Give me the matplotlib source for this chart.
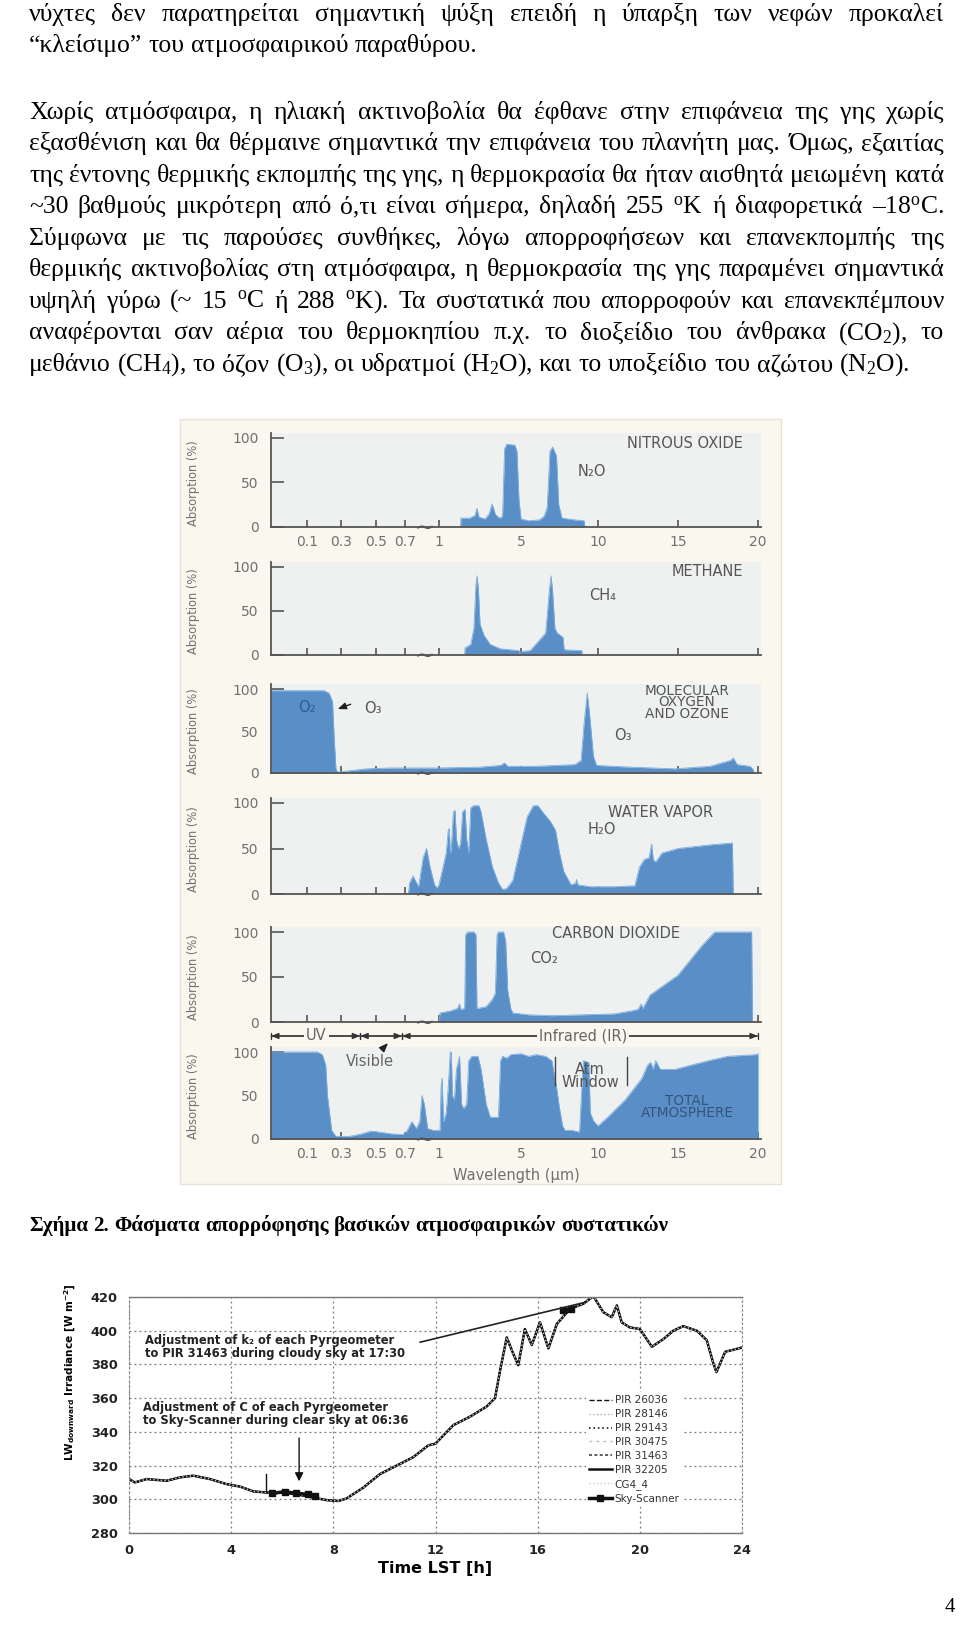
import numpy as np
import matplotlib
matplotlib.use('Agg')
import matplotlib.pyplot as plt
from matplotlib.patches import Rectangle

W, H = 960, 1629
plt.rcParams['mathtext.fontset'] = 'custom'
plt.rcParams['mathtext.rm'] = 'Liberation Serif'
plt.rcParams['mathtext.it'] = 'Liberation Serif:italic'
plt.rcParams['mathtext.bf'] = 'Liberation Serif:bold'
plt.rcParams['mathtext.sf'] = 'DejaVu Sans:bold'

# ---------------------------------------------------------------- data
body_lines = [
    "νύχτες δεν παρατηρείται σημαντική ψύξη επειδή η ύπαρξη των νεφών προκαλεί",
    "“κλείσιμο” του ατμοσφαιρικού παραθύρου.",
    "Χωρίς ατμόσφαιρα, η ηλιακή ακτινοβολία θα έφθανε στην επιφάνεια της γης χωρίς",
    "εξασθένιση και θα θέρμαινε σημαντικά την επιφάνεια του πλανήτη μας. Όμως, εξαιτίας",
    "της έντονης θερμικής εκπομπής της γης, η θερμοκρασία θα ήταν αισθητά μειωμένη κατά",
    "~30 βαθμούς μικρότερη από ό,τι είναι σήμερα, δηλαδή 255 $^{\\mathrm{o}}$K ή διαφορετικά –18$^{\\mathrm{o}}$C.",
    "Σύμφωνα με τις παρούσες συνθήκες, λόγω απορροφήσεων και επανεκπομπής της",
    "θερμικής ακτινοβολίας στη ατμόσφαιρα, η θερμοκρασία της γης παραμένει σημαντικά",
    "υψηλή γύρω (~ 15 $^{\\mathrm{o}}$C ή 288 $^{\\mathrm{o}}$K). Τα συστατικά που απορροφούν και επανεκπέμπουν",
    "αναφέρονται σαν αέρια του θερμοκηπίου π.χ. το διοξείδιο του άνθρακα (CO$_2$), το",
    "μεθάνιο (CH$_4$), το όζον (O$_3$), οι υδρατμοί (H$_2$O), και το υποξείδιο του αζώτου (N$_2$O).",
]
body_justify = [True, False, True, True, True, True, True, True, True, True, False]
caption = "Σχήμα 2. Φάσματα απορρόφησης βασικών ατμοσφαιρικών συστατικών"

# wavelength axis (piecewise scale of the original figure)
wl_anchor = [0.0, 0.1, 0.3, 0.5, 0.7, 1.0, 5.0, 10.0, 15.0, 20.0, 20.2]
pos_anchor = [0, 36, 70, 105, 134, 168, 250, 327, 407, 487, 490]
wl_ticks = [0.1, 0.3, 0.5, 0.7, 1, 5, 10, 15, 20]
wl_ticklabels = ['0.1', '0.3', '0.5', '0.7', '1', '5', '10', '15', '20']

n2o_wl = [2.05, 2.07, 2.5, 2.75, 2.85, 2.95, 3.25, 3.45, 3.59, 3.75, 3.95, 4.1, 4.2, 4.3, 4.7, 4.8,
          4.9, 5.0, 5.5, 6.2, 6.5, 6.7, 6.88, 7.05, 7.3, 7.45, 7.66, 8.5, 9.1, 9.15]
n2o_abs = [0, 10, 10, 13, 21, 11, 9, 15, 26, 14, 10, 12, 88, 93, 92, 85,
           30, 9, 7, 8, 12, 22, 85, 90, 80, 25, 10, 8, 7, 0]

ch4_wl = [2.25, 2.27, 2.55, 2.7, 2.8, 2.85, 2.92, 3.0, 3.2, 3.5, 4.0, 4.9, 4.95, 5.05, 5.6, 6.1,
          6.6, 6.85, 6.95, 7.05, 7.2, 7.35, 7.73, 7.8, 8.95, 8.97]
ch4_abs = [0, 8, 12, 30, 80, 90, 75, 35, 22, 12, 7, 5, 1, 4, 5, 15,
           25, 75, 90, 72, 30, 25, 20, 6, 5, 0]

o3_wl = [0.0, 0.2, 0.23, 0.25, 0.26, 0.27, 0.28, 0.32, 0.45, 0.6, 1.0, 3.0, 4.0, 4.2, 4.35, 6.0,
         8.5, 8.9, 9.1, 9.3, 9.45, 9.7, 9.9, 12.0, 14.8, 17.0, 18.3, 18.45, 18.7, 19.5, 19.7, 19.75]
o3_abs = [98, 98, 95, 85, 40, 5, 1, 2, 5, 6, 6, 7, 9, 12, 8, 8,
          10, 15, 60, 95, 70, 20, 9, 7, 5, 8, 15, 18, 10, 8, 4, 0]

h2o_wl = [0.73, 0.74, 0.77, 0.79, 0.82, 0.86, 0.89, 0.92, 0.96, 0.99, 1.05, 1.2, 1.35, 1.45, 1.5,
          1.55, 1.6, 1.7, 1.78, 1.85, 1.95, 2.05, 2.15, 2.27, 2.35, 2.45, 2.55, 2.7, 2.95, 3.05,
          3.3, 3.6, 3.9, 4.1, 4.3, 4.6, 4.95, 5.4, 5.8, 6.1, 6.5, 6.9, 7.24, 7.5, 7.77, 8.25,
          8.55, 8.6, 8.7, 9.5, 11.0, 12.3, 12.6, 12.9, 13.2, 13.35, 13.45, 13.6, 14.0, 15.0,
          17.0, 18.4, 18.45]
h2o_abs = [0, 12, 20, 15, 8, 40, 50, 30, 10, 6, 15, 30, 45, 70, 72,
           45, 50, 90, 92, 60, 50, 55, 90, 93, 60, 45, 95, 97, 97, 90,
           60, 30, 12, 5, 6, 15, 50, 85, 97, 97, 88, 80, 70, 45, 25, 10,
           12, 16, 10, 8, 8, 9, 30, 38, 40, 55, 38, 35, 45, 50,
           54, 56, 0]

co2_wl = [1.0, 1.05, 1.5, 1.9, 2.0, 2.05, 2.25, 2.3, 2.4, 2.7, 2.8, 2.85, 3.3, 3.6, 3.75, 3.83,
          3.9, 4.15, 4.25, 4.35, 4.5, 4.6, 5.5, 7.0, 9.0, 11.0, 12.0, 12.5, 12.7, 12.8, 13.1,
          13.25, 15.0, 16.5, 17.3, 19.6, 19.65]
co2_abs = [0, 10, 12, 15, 20, 14, 15, 97, 100, 100, 97, 15, 17, 25, 32, 97,
           100, 100, 90, 35, 15, 10, 8, 7, 8, 9, 12, 14, 20, 15, 25,
           30, 52, 85, 100, 100, 0]

tot_wl = [0.0, 0.16, 0.19, 0.21, 0.22, 0.245, 0.27, 0.35, 0.42, 0.47, 0.52, 0.6, 0.69, 0.72,
          0.76, 0.8, 0.83, 0.85, 0.87, 0.9, 0.95, 1.05, 1.1, 1.15, 1.22, 1.35, 1.45, 1.55, 1.6,
          1.65, 1.75, 1.85, 2.0, 2.1, 2.2, 2.35, 2.45, 2.6, 2.9, 3.05, 3.3, 3.5, 3.9, 4.0, 4.1,
          4.3, 4.5, 5.0, 5.5, 6.0, 6.6, 7.0, 7.3, 7.5, 7.7, 7.85, 8.3, 8.8, 8.95, 9.05, 9.4,
          9.5, 9.7, 10.0, 10.6, 11.7, 12.75, 13.1, 13.3, 13.45, 13.6, 13.9, 14.8, 16.9, 18.1,
          19.0, 19.9, 20.0]
tot_abs = [100, 100, 97, 85, 50, 10, 3, 3, 6, 9, 8, 6, 5, 10,
           20, 12, 20, 50, 40, 12, 10, 10, 60, 70, 20, 30, 60, 100, 100,
           50, 45, 80, 95, 40, 35, 40, 90, 95, 95, 80, 40, 25, 25, 90, 95,
           93, 97, 98, 95, 97, 95, 90, 60, 35, 15, 10, 10, 8, 60, 90, 88,
           30, 21, 15, 25, 45, 70, 85, 88, 80, 90, 80, 80, 90, 95,
           96, 97, 98]

# downward longwave irradiance
lw_hours = [0, 0.23, 0.69, 1.47, 2.0, 2.52, 3.17, 3.82, 4.35, 4.87, 5.39, 5.91, 6.56, 7.22,
            7.74, 8.2, 8.52, 9.18, 9.83, 10.48, 11.13, 11.72, 12.0, 12.7, 13.35, 14.0, 14.33,
            14.53, 14.79, 15.0, 15.24, 15.5, 15.77, 16.09, 16.42, 16.75, 17.27, 17.79, 18.18,
            18.57, 18.9, 19.1, 19.29, 19.6, 20.0, 20.47, 20.92, 21.31, 21.7, 22.23, 22.62,
            22.88, 23.0, 23.34, 24.0]
lw_values = [312, 310, 312, 311, 313, 314, 312, 309, 307.5, 304.7, 304, 304, 303, 301,
             299.5, 299, 300.5, 307, 315, 320, 325, 332, 333, 344, 349, 355, 360,
             376.5, 396, 388, 379.5, 401, 391.5, 405, 389.5, 404, 413, 416, 420.5,
             411, 408, 415, 405, 402, 401, 390.5, 395, 400, 402.7, 400, 394.4,
             380.5, 375.5, 387.5, 390]
sky_hours = [5.6, 6.1, 6.55, 7.0, 7.3, np.nan, 17.0, 17.3]
sky_values = [303.5, 304.5, 303.5, 303.0, 302.0, np.nan, 412, 413]
pir_names = ['PIR 26036', 'PIR 28146', 'PIR 29143', 'PIR 30475', 'PIR 31463', 'PIR 32205', 'CG4_4']
lw_yticks = [280, 300, 320, 340, 360, 380, 400, 420]
lw_xticks = [0, 4, 8, 12, 16, 20, 24]

# ---------------------------------------------------------------- helpers
fig = plt.figure(figsize=(W / 100, H / 100), dpi=100)
fig.patch.set_facecolor('white')
renderer = fig.canvas.get_renderer()


def rect(x0, y0, x1, y1):
    return [x0 / W, 1 - y1 / H, (x1 - x0) / W, (y1 - y0) / H]


def ftext(x, y, s, **kw):
    return fig.text(x / W, 1 - y / H, s, **kw)


SERIF = ['Liberation Serif', 'DejaVu Serif']


def measure(s, fs, weight='normal'):
    t = fig.text(0, 0, s, fontsize=fs, family=SERIF, fontweight=weight)
    w = t.get_window_extent(renderer).width
    t.remove()
    return w


def natural_width(s, fs, weight='normal'):
    words = s.split(' ')
    sp = measure('a b', fs, weight) - measure('ab', fs, weight)
    return sum(measure(w, fs, weight) for w in words) + sp * (len(words) - 1)


def draw_line(s, yc, justify, fs, weight='normal', x0=29, x1=944):
    words = s.split(' ')
    ws = [measure(w, fs, weight) for w in words]
    sp = measure('a b', fs, weight) - measure('ab', fs, weight)
    if justify and len(words) > 1:
        gap = (x1 - x0 - sum(ws)) / (len(words) - 1)
    else:
        gap = sp
    base = yc + 0.225 * fs * 100 / 72
    x = x0
    for w, wd in zip(words, ws):
        ftext(x, base, w, fontsize=fs, family=SERIF, fontweight=weight,
              ha='left', va='baseline', color='black')
        x += wd + gap


# ---------------------------------------------------------------- body text
fs_body = 16 * 880 / natural_width(body_lines[-1], 16)
line_centers = [15, 46] + [113 + 31.5 * i for i in range(9)]
for s, yc, j in zip(body_lines, line_centers, body_justify):
    draw_line(s, yc, j, fs_body)

# caption
fs_cap = 14 * 641 / natural_width(caption, 14, 'bold')
draw_line(caption, 1226, False, fs_cap, weight='bold')
ftext(950, 1612, '4', fontsize=fs_cap, family=SERIF, ha='center', va='baseline')

# ---------------------------------------------------------------- spectra figure
BEIGE = '#f9f7ee'
PANEL = '#eff1f1'
BLUE = '#5a8ec7'
AXC = '#555555'
LBL = '#707070'
fig.patches.append(Rectangle((180 / W, 1 - 1184 / H), 601 / W, 765 / H, transform=fig.transFigure,
                             facecolor=BEIGE, edgecolor='#e6e3d8', lw=1, zorder=-5))


def fwd(w):
    return np.interp(w, wl_anchor, pos_anchor)


def inv(p):
    return np.interp(p, pos_anchor, wl_anchor)


panels_px = [(438, 527), (567, 655), (689, 773), (803, 894), (932, 1022), (1052, 1139)]
spectra = [(n2o_wl, n2o_abs), (ch4_wl, ch4_abs), (o3_wl, o3_abs),
           (h2o_wl, h2o_abs), (co2_wl, co2_abs), (tot_wl, tot_abs)]
axes_sp = []
for i, ((y100, y0), (wl, ab)) in enumerate(zip(panels_px, spectra)):
    top = y100 - 0.06 * (y0 - y100)
    ax = fig.add_axes(rect(271, top, 761, y0))
    ax.set_zorder(1)
    ax.set_xscale('function', functions=(fwd, inv))
    ax.set_xlim(0.0, 20.2)
    ax.set_ylim(0, 106)
    ax.set_facecolor(PANEL)
    ax.fill_between(wl, ab, 0, color=BLUE, lw=0, zorder=2)
    ax.plot(wl, ab, color='#79aee0', lw=0.6, zorder=2)
    for sp in ('top', 'right'):
        ax.spines[sp].set_visible(False)
    for sp in ('left', 'bottom'):
        ax.spines[sp].set_color(AXC)
        ax.spines[sp].set_linewidth(1.3)
        ax.spines[sp].set_zorder(3)
    ax.set_yticks([0, 50, 100])
    ax.set_yticklabels(['0', '50', '100'])
    ax.set_xticks(wl_ticks)
    ax.minorticks_off()
    ax.tick_params(axis='y', direction='in', length=9, width=1.2, color=AXC,
                   labelcolor=LBL, labelsize=10, pad=9)
    ax.tick_params(axis='x', direction='in', length=5, width=1.2, color=AXC,
                   labelcolor=LBL, labelsize=10, pad=6)
    if i in (0, 5):
        ax.set_xticklabels(wl_ticklabels)
    else:
        ax.set_xticklabels([])
    ax.set_ylabel('Absorption (%)', fontsize=8.3, color=LBL)
    ax.yaxis.set_label_coords(-0.145, 0.47)
    # axis break mark between 0.7 and 1
    ax.text(0.868, -1.5, '∼', fontsize=17, color=AXC, ha='center', va='center', zorder=4,
            clip_on=False)
    axes_sp.append(ax)

TITLE = dict(fontsize=10.5, color='#555555', family='DejaVu Sans', va='center', zorder=10)
SMALLT = dict(TITLE, fontsize=9.8)
ftext(743, 443, 'NITROUS OXIDE', ha='right', **TITLE)
ftext(592, 472, 'N₂O', ha='center', **TITLE)
ftext(743, 572, 'METHANE', ha='right', **TITLE)
ftext(603, 595, 'CH₄', ha='center', **TITLE)
ftext(687, 691, 'MOLECULAR', ha='center', **SMALLT)
ftext(687, 702, 'OXYGEN', ha='center', **SMALLT)
ftext(687, 714, 'AND OZONE', ha='center', **SMALLT)
ftext(623, 735, 'O₃', ha='center', **TITLE)
ftext(307, 708, 'O₂', ha='center', fontsize=10.5, color='#2a5c94', va='center', zorder=10)
ftext(661, 812, 'WATER VAPOR', ha='center', **TITLE)
ftext(602, 830, 'H₂O', ha='center', **TITLE)
ftext(616, 933, 'CARBON DIOXIDE', ha='center', **TITLE)
ftext(544, 958, 'CO₂', ha='center', **TITLE)
ftext(687, 1101, 'TOTAL', ha='center', fontsize=9.8, color='#34557a', va='center', zorder=10)
ftext(687, 1113, 'ATMOSPHERE', ha='center', fontsize=9.8, color='#34557a', va='center', zorder=10)

ax3 = axes_sp[2]
ax3.text(0.483, 77, 'O₃', fontsize=10.5, color='#555555', ha='center', va='center')
ax3.annotate('', xy=(0.265, 75), xytext=(0.37, 83),
             arrowprops=dict(arrowstyle='-|>,head_length=0.5,head_width=0.2', color='#222', lw=1))

ax6 = axes_sp[5]
ax6.set_xlabel('Wavelength (μm)', fontsize=10.5, color=LBL, labelpad=5)
ya = 1.117
for (a, b) in [(0.0, 0.41), (0.41, 0.68), (0.68, 20.0)]:
    ax6.annotate('', xy=(a, ya), xytext=(b, ya), xycoords=('data', 'axes fraction'),
                 textcoords=('data', 'axes fraction'),
                 arrowprops=dict(arrowstyle='<|-|>,head_length=0.45,head_width=0.18',
                                 color='#333', lw=0.9, shrinkA=0, shrinkB=0))
    ax6.annotate('', xy=(a, ya), xytext=(b, ya), xycoords=('data', 'axes fraction'),
                 textcoords=('data', 'axes fraction'),
                 arrowprops=dict(arrowstyle='|-|,widthA=0.25,widthB=0.25',
                                 color='#333', lw=0.9, shrinkA=0, shrinkB=0))
bb = dict(boxstyle='square,pad=0.15', fc=BEIGE, ec='none')
ax6.text(0.153, ya, 'UV', fontsize=10.5, color='#666', ha='center', va='center',
         transform=ax6.get_xaxis_transform(), bbox=bb, zorder=5)
ax6.text(9.03, ya, 'Infrared (IR)', fontsize=10.5, color='#666', ha='center', va='center',
         transform=ax6.get_xaxis_transform(), bbox=bb, zorder=5)
ax6.annotate('Visible', xy=(0.583, 1.04), xytext=(0.466, 0.835),
             xycoords=('data', 'axes fraction'), textcoords=('data', 'axes fraction'),
             fontsize=10.5, color='#666', ha='center', va='center',
             arrowprops=dict(arrowstyle='-|>,head_length=0.5,head_width=0.2', color='#222', lw=1,
                             shrinkA=6, shrinkB=0))
ax6.axvline(7.21, ymin=0.586, ymax=0.889, color='#444', lw=1, zorder=4)
ax6.axvline(11.81, ymin=0.586, ymax=0.889, color='#444', lw=1, zorder=4)
ax6.text(9.48, 0.75, 'Atm', fontsize=10.5, color='#555', ha='center', va='center',
         transform=ax6.get_xaxis_transform(), zorder=5)
ax6.text(9.48, 0.615, 'Window', fontsize=10.5, color='#555', ha='center', va='center',
         transform=ax6.get_xaxis_transform(), zorder=5)

# ---------------------------------------------------------------- LW irradiance chart
axl = fig.add_axes(rect(129, 1297, 742, 1533))
axl.set_xlim(0, 24)
axl.set_ylim(280, 420)
axl.set_xticks(lw_xticks)
axl.set_yticks(lw_yticks)
axl.grid(True, ls=(0, (1.5, 2.5)), color='#777777', lw=0.9)
axl.set_axisbelow(True)
for sp in ('top', 'bottom'):
    axl.spines[sp].set_color('#777777')
    axl.spines[sp].set_linewidth(1.0)
for sp in ('left', 'right'):
    axl.spines[sp].set_linestyle((0, (1.5, 2.5)))
    axl.spines[sp].set_color('#888888')
axl.tick_params(length=0, labelsize=9.3, pad=8, labelcolor='#222222')
for lab in axl.get_xticklabels() + axl.get_yticklabels():
    lab.set_fontweight('bold')

styles = [dict(ls='--', color='#111', lw=1.0),
          dict(ls=':', color='#aaaaaa', lw=1.0),
          dict(ls=':', color='#222', lw=1.2),
          dict(ls=(0, (2, 3)), color='#bbbbbb', lw=1.0),
          dict(ls=(0, (2, 1.5)), color='#333', lw=1.1),
          dict(ls='-', color='#111', lw=1.8),
          dict(ls=':', color='#cccccc', lw=1.0)]
handles = []
for name, st in zip(pir_names, styles):
    h, = axl.plot(lw_hours, lw_values, label=name, **st)
    handles.append(h)
hs, = axl.plot(sky_hours, sky_values, color='#111', lw=2.5, marker='s', ms=4.5,
               label='Sky-Scanner')
handles.append(hs)

leg = axl.legend(handles=handles, loc='upper left', bbox_to_anchor=(0.745, 0.597),
                 frameon=True, fancybox=False, framealpha=1, edgecolor='none',
                 facecolor='white', fontsize=7.5, handlelength=2.2, handletextpad=0.3,
                 labelspacing=0.38, borderpad=0.3, borderaxespad=0)
for t in leg.get_texts():
    t.set_color('#333')

axl.plot([11.4, 17.9], [393.2, 417.0], color='#222', lw=1.2)
axl.annotate('', xy=(6.66, 309), xytext=(6.66, 338),
             arrowprops=dict(arrowstyle='-|>,head_length=0.5,head_width=0.25', color='#111', lw=1))
axl.plot([5.36, 5.36], [305, 315], color='#111', lw=1)
axl.text(0.62, 390.3, 'Adjustment of k₂ of each Pyrgeometer\nto PIR 31463 during cloudy sky at 17:30',
         fontsize=8.3, fontweight='bold', color='#222', ha='left', va='center', linespacing=1.05)
axl.text(0.55, 350.6, 'Adjustment of C of each Pyrgeometer\nto Sky-Scanner during clear sky at 06:36',
         fontsize=8.3, fontweight='bold', color='#222', ha='left', va='center', linespacing=1.05)
axl.set_xlabel('Time LST [h]', fontsize=11.5, fontweight='bold', labelpad=3)
axl.set_ylabel(r'LW$_{\mathsf{downward}}$ Irradiance [W m$^{\mathsf{-2}}$]', fontsize=7.6,
               fontweight='bold')
axl.yaxis.set_label_coords(-0.085, 0.68)

fig.savefig('out.png', dpi=100, facecolor='white')
